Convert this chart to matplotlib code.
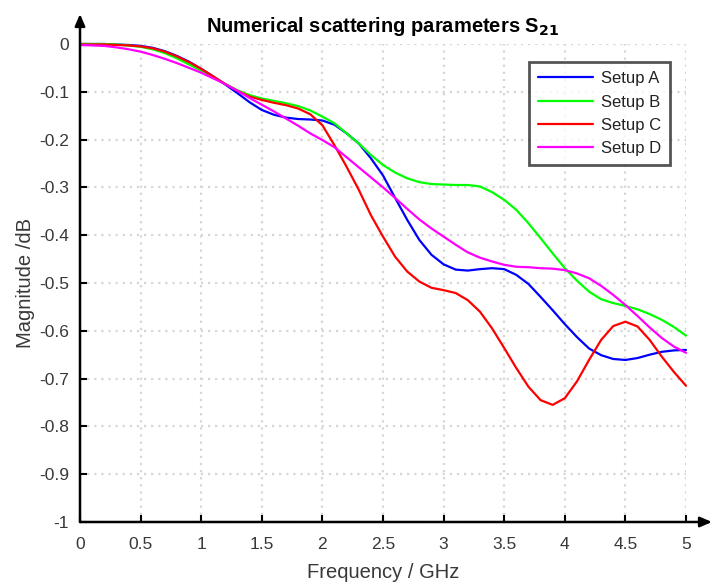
import numpy as np
import matplotlib
matplotlib.use('Agg')
import matplotlib.pyplot as plt

plt.rcParams['font.family'] = ['Liberation Sans', 'DejaVu Sans']
plt.rcParams['axes.unicode_minus'] = False

# frequency grid in GHz
freq = [0.0, 0.1, 0.2, 0.3, 0.4, 0.5, 0.6, 0.7, 0.8, 0.9,
        1.0, 1.1, 1.2, 1.3, 1.4, 1.5, 1.6, 1.7, 1.8, 1.9,
        2.0, 2.1, 2.2, 2.3, 2.4, 2.5, 2.6, 2.7, 2.8, 2.9,
        3.0, 3.1, 3.2, 3.3, 3.4, 3.5, 3.6, 3.7, 3.8, 3.9,
        4.0, 4.1, 4.2, 4.3, 4.4, 4.5, 4.6, 4.7, 4.8, 4.9, 5.0]

setup_a = [0.0, 0.0, 0.0, -0.001, -0.002, -0.004, -0.008, -0.015, -0.025, -0.037,
           -0.052, -0.068, -0.085, -0.103, -0.122, -0.138, -0.148, -0.154, -0.157, -0.158,
           -0.160, -0.169, -0.187, -0.208, -0.239, -0.275, -0.322, -0.368, -0.410, -0.441,
           -0.461, -0.472, -0.474, -0.471, -0.469, -0.471, -0.483, -0.502, -0.529, -0.557,
           -0.586, -0.613, -0.637, -0.651, -0.659, -0.661, -0.657, -0.650, -0.644, -0.641, -0.640]

setup_b = [0.0, 0.0, 0.0, -0.001, -0.003, -0.006, -0.011, -0.019, -0.030, -0.043,
           -0.056, -0.070, -0.084, -0.097, -0.107, -0.114, -0.119, -0.124, -0.130, -0.139,
           -0.152, -0.166, -0.187, -0.208, -0.232, -0.253, -0.269, -0.281, -0.289, -0.293,
           -0.294, -0.295, -0.295, -0.298, -0.310, -0.326, -0.347, -0.375, -0.406, -0.438,
           -0.469, -0.495, -0.518, -0.534, -0.542, -0.548, -0.555, -0.565, -0.577, -0.592, -0.610]

setup_c = [-0.001, -0.001, -0.001, -0.002, -0.003, -0.005, -0.009, -0.016, -0.026, -0.038,
           -0.052, -0.068, -0.084, -0.098, -0.110, -0.117, -0.123, -0.128, -0.135, -0.147,
           -0.170, -0.212, -0.257, -0.305, -0.358, -0.403, -0.445, -0.476, -0.497, -0.510,
           -0.515, -0.521, -0.536, -0.560, -0.595, -0.636, -0.678, -0.717, -0.745, -0.755,
           -0.741, -0.706, -0.661, -0.619, -0.590, -0.581, -0.591, -0.619, -0.654, -0.686, -0.715]

setup_d = [-0.002, -0.003, -0.004, -0.007, -0.011, -0.016, -0.023, -0.031, -0.040, -0.050,
           -0.060, -0.072, -0.084, -0.098, -0.113, -0.127, -0.141, -0.156, -0.171, -0.187,
           -0.201, -0.216, -0.237, -0.258, -0.279, -0.300, -0.322, -0.345, -0.367, -0.386,
           -0.403, -0.420, -0.436, -0.447, -0.455, -0.462, -0.466, -0.467, -0.469, -0.470,
           -0.473, -0.480, -0.490, -0.506, -0.525, -0.546, -0.569, -0.593, -0.615, -0.633, -0.646]

labels = ['Setup A', 'Setup B', 'Setup C', 'Setup D']
colors = ['#0000ff', '#00ff00', '#ff0000', '#ff00ff']

xticks = [0, 0.5, 1, 1.5, 2, 2.5, 3, 3.5, 4, 4.5, 5]
xticklabels = ['0', '0.5', '1', '1.5', '2', '2.5', '3', '3.5', '4', '4.5', '5']
yticks = [0, -0.1, -0.2, -0.3, -0.4, -0.5, -0.6, -0.7, -0.8, -0.9, -1]
yticklabels = ['0', '-0.1', '-0.2', '-0.3', '-0.4', '-0.5', '-0.6', '-0.7', '-0.8', '-0.9', '-1']

fig = plt.figure(figsize=(7.12, 5.85), dpi=100)
ax = fig.add_axes([80/712, 63/585, 606/712, 478/585])

for ys, lab, c in zip([setup_a, setup_b, setup_c, setup_d], labels, colors):
    ax.plot(freq, ys, color=c, lw=1.6, label=lab, clip_on=False,
            solid_joinstyle='round', solid_capstyle='round')

ax.set_xlim(0, 5)
ax.set_ylim(-1, 0)
ax.set_xticks(xticks)
ax.set_xticklabels(xticklabels)
ax.set_yticks(yticks)
ax.set_yticklabels(yticklabels)
ax.tick_params(direction='in', length=5, width=1.5, color='black',
               labelsize=12.5, labelcolor='#383838')
ax.tick_params(axis='x', pad=11)
ax.tick_params(axis='y', pad=8)
ax.grid(True, color='#d6d6d6', linestyle=(0, (1, 2.2)), lw=1.6)
ax.set_axisbelow(True)

for s in ax.spines.values():
    s.set_visible(False)

# axis arrows
ax.annotate('', xy=(0, 1 + 30/478), xytext=(0, 0), xycoords='axes fraction',
            arrowprops=dict(arrowstyle='-|>,head_length=0.7,head_width=0.3',
                            color='black', lw=1.8, shrinkA=0, shrinkB=0))
ax.annotate('', xy=(1 + 26/606, 0), xytext=(0, 0), xycoords='axes fraction',
            arrowprops=dict(arrowstyle='-|>,head_length=0.7,head_width=0.3',
                            color='black', lw=1.8, shrinkA=0, shrinkB=0))

ax.set_title('Numerical scattering parameters S$_{\\mathbf{21}}$', fontsize=14.5,
             fontweight='bold', pad=9)
ax.set_xlabel('Frequency / GHz', fontsize=14.5, color='#383838', labelpad=8)
ax.set_ylabel('Magnitude /dB', fontsize=14.5, color='#383838', labelpad=3)

leg = ax.legend(loc='upper right', bbox_to_anchor=(0.974, 0.962), fontsize=12,
                frameon=True, fancybox=False, handlelength=3.3, labelspacing=0.5,
                borderpad=0.55, handletextpad=0.45, borderaxespad=0)
leg.get_frame().set_edgecolor('#2a2a2a')
leg.get_frame().set_linewidth(2)
for t in leg.get_texts():
    t.set_color('#222222')

fig.savefig('out.png', dpi=100)
